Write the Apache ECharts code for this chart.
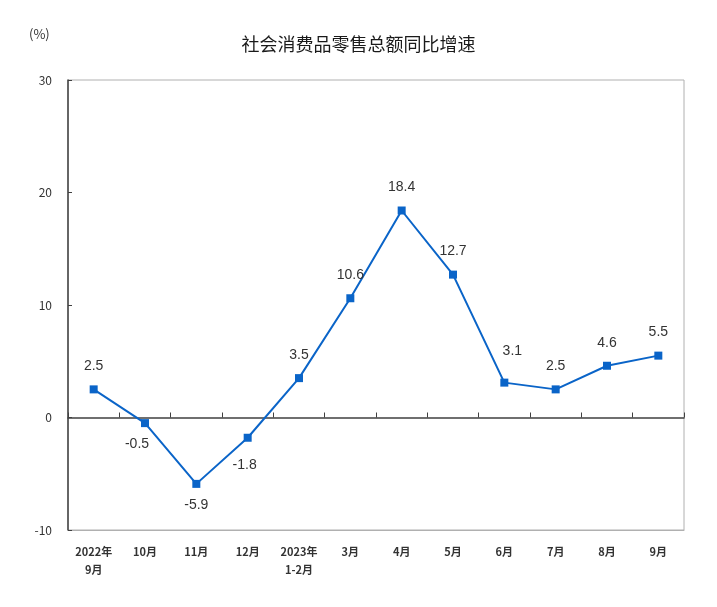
<!DOCTYPE html>
<html><head><meta charset="utf-8">
<script src="https://cdn.jsdelivr.net/npm/echarts@6/dist/echarts.min.js"></script>
<style>html,body{margin:0;padding:0;background:#fff}#c{width:717px;height:607px}</style>
</head><body><div id="c"></div>
<script>
var categories = ["2022年\n9月","10月","11月","12月","2023年\n1-2月","3月","4月","5月","6月","7月","8月","9月"];
var values = [2.5,-0.5,-5.9,-1.8,3.5,10.6,18.4,12.7,3.1,2.5,4.6,5.5];
var yTicks = {min:-10, max:30, interval:10};

var font = '"Noto Sans CJK SC", "Liberation Sans", sans-serif';
function labelFor(i, v){
  var l = {show:true};
  if (v < 0) { l.position = 'bottom'; l.distance = 10; }
  if (i === 3) { l.offset = [-3, 6]; }
  if (i === 8) { l.offset = [8, -8]; }
  if (i === 1) { l.offset = [-8, 0]; }
  return l;
}
var seriesData = values.map(function(v,i){ return {value:v, label:labelFor(i,v)}; });

var chart = echarts.init(document.getElementById('c'), null, {renderer:'canvas'});
chart.setOption({
  animation:false,
  backgroundColor:'#fff',
  title:{text:'社会消费品零售总额同比增速', left:'center', top:30,
    textStyle:{fontFamily:font, fontSize:18, fontWeight:'normal', color:'#1a1a1a'}},
  graphic:[{type:'text', left:29, top:28, style:{text:'(%)', font:'13px '+font, fill:'#333'}}],
  grid:{left:68, right:33, top:80, bottom:77, show:true, borderColor:'#b0b0b0', borderWidth:1},
  xAxis:[{
    type:'category', data:categories, position:'bottom', boundaryGap:true,
    axisLine:{onZero:false, lineStyle:{color:'#b0b0b0', width:1}},
    axisTick:{show:false},
    axisLabel:{fontFamily:font, fontSize:11, fontWeight:'bold', color:'#333', margin:13, lineHeight:18, interval:0}
  },{
    type:'category', data:categories, position:'top', boundaryGap:true,
    axisLine:{onZero:true, lineStyle:{color:'#404040', width:1.5}},
    axisTick:{show:true, inside:false, length:5, lineStyle:{color:'#404040'}},
    axisLabel:{show:false}
  }],
  yAxis:{
    type:'value', min:yTicks.min, max:yTicks.max, interval:yTicks.interval,
    axisLine:{show:true, lineStyle:{color:'#404040', width:1.5}},
    axisTick:{show:true, inside:true, length:4, lineStyle:{color:'#404040'}},
    splitLine:{show:false},
    axisLabel:{fontFamily:font, fontSize:12, color:'#333', margin:16}
  },
  series:[{
    type:'line', xAxisIndex:0, data:seriesData,
    symbol:'rect', symbolSize:8,
    lineStyle:{color:'#0a64c8', width:2},
    itemStyle:{color:'#0a64c8'},
    label:{show:true, position:'top', distance:12, fontFamily:'"Liberation Sans", Arial, sans-serif', fontSize:14, color:'#333'}
  }]
});
</script></body></html>
